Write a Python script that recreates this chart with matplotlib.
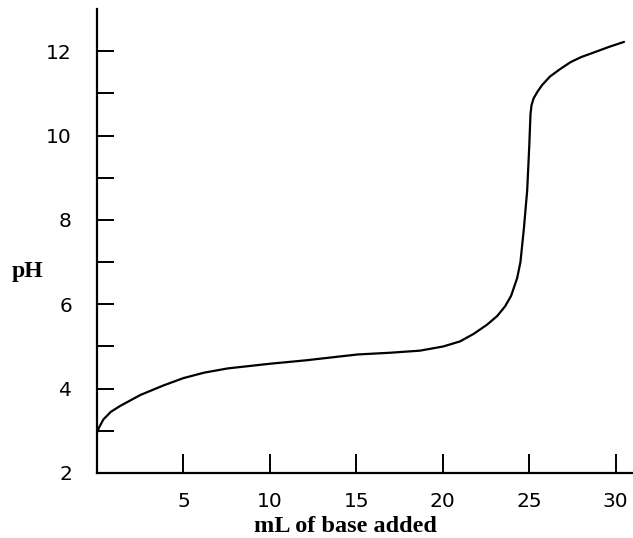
import matplotlib
matplotlib.use("Agg")
import matplotlib.pyplot as plt

# Data
volume_ml = [0.0, 0.12, 0.37, 0.8, 1.34, 2.51, 3.87, 5.0, 6.21, 7.57, 10.0,
             12.05, 15.07, 16.92, 18.67, 20.03, 21.0, 21.79, 22.57, 23.14,
             23.6, 23.95, 24.3, 24.49, 24.69, 24.88, 25.0, 25.07, 25.13, 25.25,
             25.46, 25.75, 26.2, 26.8, 27.39, 28.0, 28.74, 29.6, 30.48]
ph_values = [2.96, 3.08, 3.27, 3.45, 3.59, 3.85, 4.08, 4.25, 4.38, 4.48, 4.59,
             4.67, 4.81, 4.85, 4.90, 5.0, 5.12, 5.3, 5.52, 5.72,
             5.95, 6.2, 6.62, 7.0, 7.8, 8.7, 9.75, 10.5, 10.72, 10.88,
             11.03, 11.2, 11.4, 11.58, 11.74, 11.86, 11.97, 12.1, 12.22]

x_ticks = [5, 10, 15, 20, 25, 30]
y_ticks = [2, 3, 4, 5, 6, 7, 8, 9, 10, 11, 12]
y_ticklabels = ["2", "", "4", "", "6", "", "8", "", "10", "", "12"]

fig = plt.figure(figsize=(6.33, 5.38), dpi=100)
ax = fig.add_axes([97 / 633, 1 - 473 / 538, 1 - 97 / 633, (473 - 9) / 538])

ax.plot(volume_ml, ph_values, color="black", linewidth=1.6,
        solid_capstyle="round", solid_joinstyle="round")

ax.set_xlim(0, 31)
ax.set_ylim(2, 13)

for side in ("top", "right"):
    ax.spines[side].set_visible(False)
for side in ("left", "bottom"):
    ax.spines[side].set_linewidth(1.6)
    ax.spines[side].set_color("black")

ax.set_xticks(x_ticks)
ax.set_xticklabels([str(v) for v in x_ticks])
ax.set_yticks(y_ticks)
ax.set_yticklabels(y_ticklabels)

ax.tick_params(axis="x", direction="in", length=14, width=1.4,
               labelsize=14.5, pad=14, colors="black")
ax.tick_params(axis="y", direction="in", length=12, width=1.4,
               labelsize=14.5, pad=18, colors="black")

fig.text(345 / 633, 6 / 538, "mL of base added", ha="center", va="baseline",
         fontsize=17.5, fontweight="bold", family="Liberation Serif")
fig.text(27 / 633, 1 - 272 / 538, "pH", ha="center", va="center",
         fontsize=17, fontweight="bold", family="Liberation Serif")

fig.savefig("out.png", dpi=100)
